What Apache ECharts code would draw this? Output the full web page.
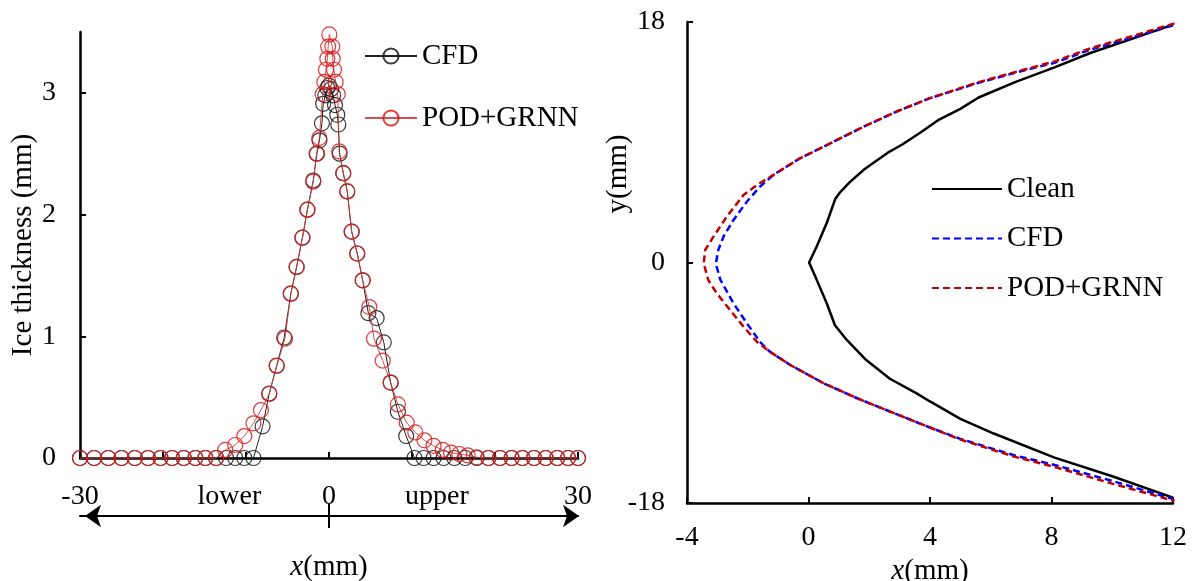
<!DOCTYPE html>
<html>
<head>
<meta charset="utf-8">
<script src="https://cdn.jsdelivr.net/npm/echarts@6/dist/echarts.min.js"></script>
<style>
  html, body { margin: 0; padding: 0; background: #fff; }
  #chart { width: 1194px; height: 581px; }
</style>
</head>
<body>
<div id="chart"></div>
<script>
// Ice thickness (mm) along the surface coordinate x (mm)
const cfdX = [-30, -28.3, -26.6, -25.0, -23.4, -21.8, -20.3, -18.9, -17.5, -16.1, -14.9, -13.6, -12.4, -11.3, -10.2, -9.1,
  -8.0, -7.2, -6.3, -5.4, -4.6, -3.9, -3.2, -2.6, -1.9, -1.45,
  -1.15, -0.85, -0.7, -0.45, -0.2, 0, 0.25, 0.5, 0.72, 1.0, 1.12, 1.28,
  1.72, 2.2, 2.73, 3.4, 4.06, 4.74, 5.74, 6.6, 7.43, 8.3, 9.3,
  10.3, 11.4, 12.6, 13.8, 15.1, 16.4, 17.8, 19.2, 20.6, 22.0, 23.3, 24.7, 26.1, 27.5, 28.8, 30];
const cfdY = [0, 0, 0, 0, 0, 0, 0, 0, 0, 0, 0, 0, 0, 0, 0, 0,
  0.26, 0.53, 0.76, 0.99, 1.35, 1.57, 1.81, 2.04, 2.28, 2.50,
  2.61, 2.75, 2.91, 2.98, 3.04, 3.06, 3.03, 2.98, 2.90, 2.82, 2.74, 2.50,
  2.34, 2.19, 1.86, 1.68, 1.46, 1.19, 1.15, 0.95, 0.62, 0.38, 0.18,
  0, 0, 0, 0, 0, 0, 0, 0, 0, 0, 0, 0, 0, 0, 0, 0];

const podX = [-30, -28.3, -26.6, -25.0, -23.4, -21.8, -20.3, -18.9, -17.5, -16.1, -14.9, -13.6,
  -12.5, -11.3, -10.2, -9.1, -8.2, -7.2, -6.3, -5.3, -4.6, -3.9, -3.2, -2.6, -1.9, -1.5,
  -1.17, -0.76, -0.56, -0.36, -0.2, -0.1, 0.04, 0.4, 0.45, 0.6, 0.8, 1.05, 1.24,
  1.72, 2.2, 2.73, 3.4, 4.06, 4.86, 5.42, 6.47, 7.43, 8.3, 9.36,
  10.4, 11.5, 12.6, 13.7, 14.7, 15.7, 16.7, 17.8,
  19.2, 20.6, 22.0, 23.3, 24.7, 26.1, 27.5, 28.8, 30];
const podY = [0, 0, 0, 0, 0, 0, 0, 0, 0, 0, 0, 0,
  0.066, 0.107, 0.18, 0.285, 0.394, 0.526, 0.756, 0.98, 1.35, 1.57, 1.81, 2.04, 2.27, 2.50,
  2.63, 2.99, 3.09, 3.19, 3.28, 3.38, 3.48, 3.38, 3.28, 3.19, 3.09, 2.99, 2.52,
  2.34, 2.19, 1.86, 1.68, 1.46, 1.24, 0.98, 0.80, 0.62, 0.44, 0.29,
  0.21, 0.145, 0.10, 0.066, 0.044, 0.033, 0.022, 0.006,
  0, 0, 0, 0, 0, 0, 0, 0, 0];

// Clean and iced leading-edge profiles, traced from upper to lower surface
const cleanX = [12, 10.6, 9.3, 8.1, 6.8, 5.6, 5.0, 4.3, 3.7, 3.1, 2.6, 1.85, 1.35, 1.04, 0.88, 0.6, 0.27, 0.02,
  0.27, 0.6, 0.87, 1.26, 1.9, 2.68, 3.56, 4.0, 5.0, 6.1, 8.1, 10.0, 12];
const cleanY = [17.8, 16.7, 15.7, 14.6, 13.5, 12.35, 11.5, 10.7, 9.75, 8.85, 8.2, 7.0, 6.0, 5.25, 4.75, 2.95, 1.2, 0,
  -1.3, -3.05, -4.7, -5.8, -7.3, -8.7, -9.8, -10.4, -11.7, -12.8, -14.6, -16.0, -17.6];

const cfdShapeX = [12, 10.6, 9.3, 8.1, 6.8, 5.6, 4.0, 2.9, 1.8, 0.7, -0.28, -1.16, -1.6, -2.03, -2.47, -2.8, -2.97, -3.05,
  -2.9, -2.47, -2.03, -1.6, -1.27, -0.6, 0.5, 1.6, 2.7, 4.0, 5.0, 6.8, 8.1, 10.0, 12];
const cfdShapeY = [17.75, 16.8, 15.95, 14.95, 14.2, 13.45, 12.3, 11.3, 10.15, 8.9, 7.8, 6.55, 5.67, 4.55, 3.18, 1.93, 0.94, -0.1,
  -1.3, -3.05, -4.55, -5.93, -6.68, -7.67, -9.04, -10.16, -11.17, -12.35, -13.2, -14.45, -15.15, -16.35, -17.7];

const podShapeX = [12.05, 10.6, 9.3, 8.1, 6.8, 5.6, 4.0, 2.9, 1.8, 0.7, -0.28, -1.16, -1.7, -2.14, -2.69, -3.13, -3.4, -3.45,
  -3.3, -3.02, -2.58, -2.14, -1.7, -1.27, -0.6, 0.5, 1.6, 2.7, 4.0, 5.0, 6.8, 8.1, 10.0, 12.05];
const podShapeY = [17.9, 16.9, 16.05, 15.05, 14.25, 13.5, 12.3, 11.3, 10.15, 8.9, 7.8, 6.55, 5.8, 5.05, 3.43, 1.93, 0.94, -0.06,
  -1.31, -2.31, -3.56, -4.8, -5.93, -6.68, -7.67, -9.04, -10.16, -11.17, -12.35, -13.25, -14.55, -15.3, -16.55, -17.85];

// Tick values and labels
const thicknessTicks = [0, 1, 2, 3];
const surfaceTickValues = [-30, -12, 0, 13, 30];
const surfaceTickLabels = ['-30', 'lower', '0', 'upper', '30'];
const profileYTicks = [-18, 0, 18];

const FONT = 'Liberation Serif';
const FS = 28;      // tick labels
const FT = 29;      // titles and legend
const zip = (xs, ys) => xs.map((x, i) => [x, ys[i]]);
const tick = { fontFamily: FONT, fontSize: FS, color: '#000' };
const title = { fontFamily: FONT, fontSize: FT, color: '#000' };
const italicRich = { i: { fontFamily: FONT, fontSize: FT, fontStyle: 'italic', color: '#000' } };
const profileName = n => n.replace(' profile', '');
const noFill = 'rgba(0,0,0,0)';

const chart = echarts.init(document.getElementById('chart'), null, { renderer: 'canvas' });

const option = {
  animation: false,
  backgroundColor: '#fff',
  grid: [
    { left: 80, right: 616, top: 32, bottom: 123, containLabel: false, outerBoundsMode: 'none' },
    { left: 687, right: 21, top: 22, bottom: 78, containLabel: false, outerBoundsMode: 'none' }
  ],
  legend: [
    {
      data: ['CFD', 'POD+GRNN'], orient: 'vertical', left: 364, top: 41, padding: 0,
      itemWidth: 52, itemHeight: 19, itemGap: 32,
      textStyle: Object.assign({ lineHeight: 30 }, title), selectedMode: false
    },
    {
      data: ['Clean', 'CFD profile', 'POD+GRNN profile'], orient: 'vertical', left: 931, top: 174, padding: 0,
      itemWidth: 70, itemHeight: 14, itemGap: 19.5, formatter: profileName,
      textStyle: Object.assign({ lineHeight: 30 }, title), selectedMode: false
    }
  ],
  xAxis: [
    {
      type: 'value', gridIndex: 0, min: -30, max: 30, interval: 10, position: 'bottom',
      axisLine: { show: true, onZero: false, lineStyle: { color: '#000', width: 2.5 } },
      axisTick: { show: true, inside: true, length: 6, lineStyle: { color: '#000', width: 2 } },
      axisLabel: { show: false }, splitLine: { show: false }
    },
    {
      type: 'value', gridIndex: 0, min: -30, max: 30, position: 'bottom', offset: 58,
      axisLine: { show: true, onZero: false, symbol: ['arrow', 'arrow'], symbolSize: [17, 16], symbolOffset: [5, 1],
        lineStyle: { color: '#000', width: 2 } },
      axisTick: { show: false },
      axisLabel: {
        show: true, inside: true, margin: 5, customValues: surfaceTickValues,
        formatter: v => surfaceTickLabels[surfaceTickValues.indexOf(v)],
        fontFamily: FONT, fontSize: FS, color: '#000', hideOverlap: false
      },
      splitLine: { show: false },
      name: '{i|x}(mm)', nameLocation: 'middle', nameGap: 37,
      nameTextStyle: Object.assign({ rich: italicRich }, title)
    },
    {
      type: 'value', gridIndex: 1, min: -4, max: 12, interval: 4,
      axisLine: { show: true, onZero: false, lineStyle: { color: '#000', width: 2.5 } },
      axisTick: { show: true, inside: true, length: 6, lineStyle: { color: '#000', width: 2 } },
      axisLabel: Object.assign({ margin: 21 }, tick),
      splitLine: { show: false },
      name: '{i|x}(mm)', nameLocation: 'middle', nameGap: 48,
      nameTextStyle: Object.assign({ rich: italicRich }, title)
    }
  ],
  yAxis: [
    {
      type: 'value', gridIndex: 0, min: 0, max: 3.5,
      axisLine: { show: true, onZero: false, lineStyle: { color: '#000', width: 2.5 } },
      axisTick: { show: true, inside: true, length: 6, customValues: thicknessTicks, lineStyle: { color: '#000', width: 2 } },
      axisLabel: Object.assign({ margin: 24, customValues: thicknessTicks }, tick),
      splitLine: { show: false },
      name: 'Ice thickness (mm)', nameLocation: 'middle', nameGap: 42, nameTextStyle: title
    },
    {
      type: 'value', gridIndex: 1, min: -18, max: 18, interval: 18,
      axisLine: { show: true, onZero: false, lineStyle: { color: '#000', width: 2.5 } },
      axisTick: { show: true, inside: true, length: 6, customValues: profileYTicks, lineStyle: { color: '#000', width: 2 } },
      axisLabel: Object.assign({ margin: 22, customValues: profileYTicks }, tick),
      splitLine: { show: false }
    }
  ],
  series: [
    {
      name: 'CFD', type: 'line', xAxisIndex: 0, yAxisIndex: 0, data: zip(cfdX, cfdY), clip: false,
      symbol: 'circle', symbolSize: 15, showAllSymbol: true,
      itemStyle: { color: noFill, borderColor: 'rgba(25,25,25,0.85)', borderWidth: 1.2 },
      lineStyle: { color: '#222', width: 1 }, z: 2
    },
    {
      name: 'POD+GRNN', type: 'line', xAxisIndex: 0, yAxisIndex: 0, data: zip(podX, podY), clip: false,
      symbol: 'circle', symbolSize: 15, showAllSymbol: true,
      itemStyle: { color: noFill, borderColor: 'rgba(220,25,25,0.85)', borderWidth: 1.2 },
      lineStyle: { color: 'rgba(210,60,60,0.9)', width: 1 }, z: 3
    },
    {
      name: 'Clean', type: 'line', xAxisIndex: 2, yAxisIndex: 1, data: zip(cleanX, cleanY), clip: false,
      symbol: 'none', itemStyle: { color: noFill, borderWidth: 0 },
      lineStyle: { color: '#000', width: 2.5 }, z: 2
    },
    {
      name: 'CFD profile', type: 'line', xAxisIndex: 2, yAxisIndex: 1, data: zip(cfdShapeX, cfdShapeY), clip: false,
      symbol: 'none', itemStyle: { color: noFill, borderWidth: 0 },
      lineStyle: { color: '#0000ff', width: 2.5, type: [7, 4] }, z: 3
    },
    {
      name: 'POD+GRNN profile', type: 'line', xAxisIndex: 2, yAxisIndex: 1, data: zip(podShapeX, podShapeY), clip: false,
      symbol: 'none', itemStyle: { color: noFill, borderWidth: 0 },
      lineStyle: { color: '#c00000', width: 2.5, type: [7, 4] }, z: 4
    }
  ]
};

chart.setOption(option);

// Centre mark on the lower/upper arrow and the vertical title of the profile plot
const zeroPx = chart.convertToPixel({ xAxisIndex: 1 }, 0);
const arrowY = chart.convertToPixel({ yAxisIndex: 0 }, 0) + 58;
chart.setOption({
  graphic: [
    { type: 'line', shape: { x1: zeroPx, y1: arrowY - 12, x2: zeroPx, y2: arrowY + 12 },
      style: { stroke: '#000', lineWidth: 2 } },
    { type: 'text', x: 618, y: 174, rotation: Math.PI / 2,
      style: { text: 'y(mm)', fontFamily: FONT, fontSize: FT, fill: '#000', align: 'center', verticalAlign: 'middle' } }
  ]
});
</script>
</body>
</html>
